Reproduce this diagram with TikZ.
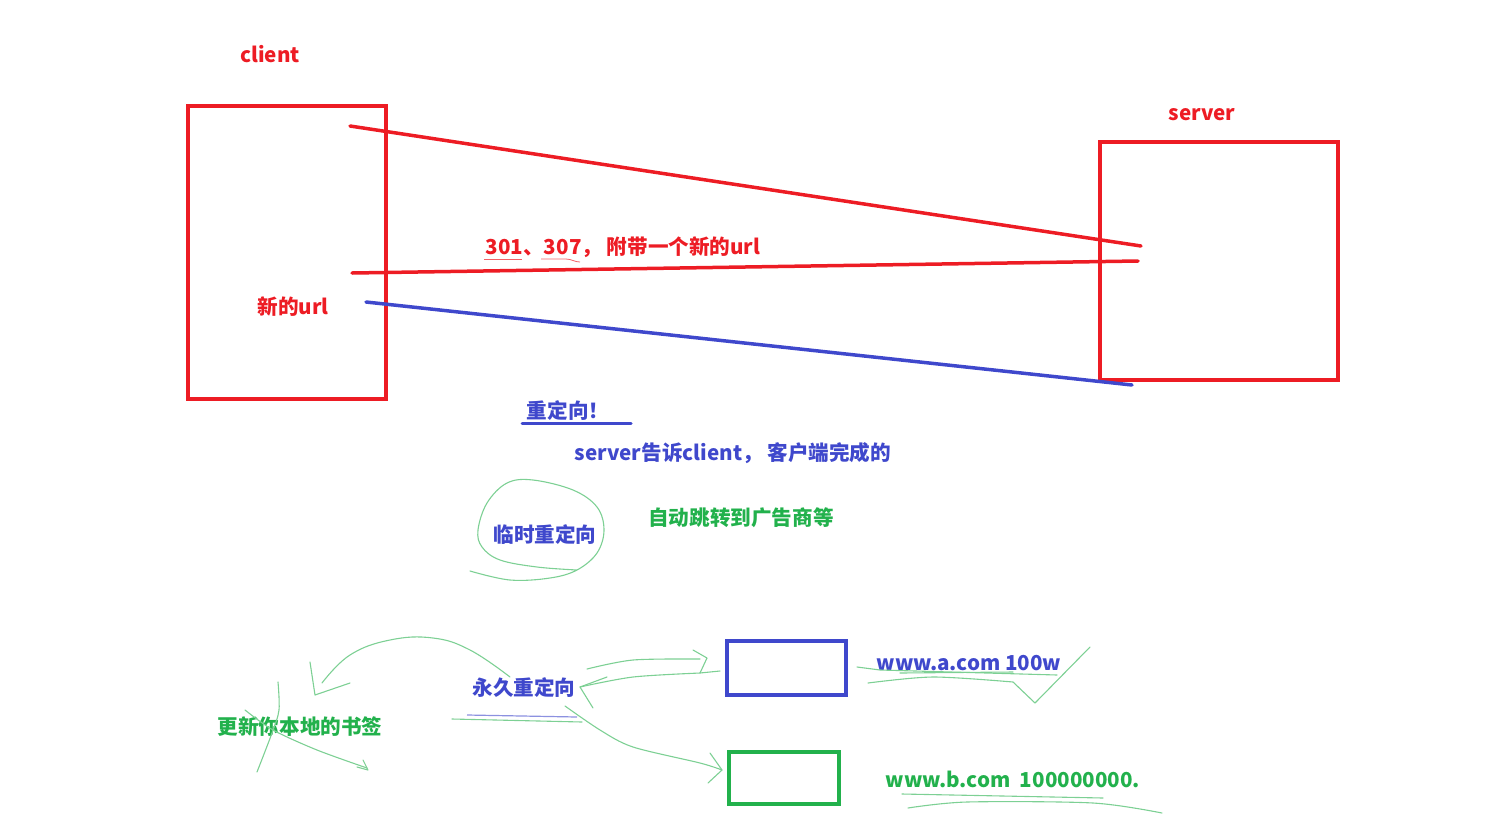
\documentclass[tikz,border=0pt]{standalone}
\usepackage{fontspec}
\setmainfont{Noto Sans CJK SC}
\usepackage{tikz}
\definecolor{redink}{RGB}{237, 28, 36}
\definecolor{blueink}{RGB}{63, 72, 204}
\definecolor{greenink}{RGB}{34, 177, 76}
\definecolor{penline}{RGB}{125, 208, 148}

\begin{document}
\begin{tikzpicture}[x=1pt, y=-1pt,
	lbl/.style={font=\bfseries\fontsize{20.6}{24}\selectfont, inner sep=0pt},
	boxline/.style={draw, line width=3.5pt, inner sep=0pt},
	pen/.style={penline, line width=1.1pt, line cap=round, line join=round}]
	
	\useasboundingbox (0,0) rectangle (1506,833);
	
	% client and server
	\node[boxline, redink, minimum width=198pt, minimum height=293pt] (clientbox) at (287,252.5) {};
	\node[boxline, redink, minimum width=238pt, minimum height=238pt] (serverbox) at (1219,261) {};
	\node[lbl, redink] (client) at (270,54) {client};
	\node[lbl, redink] (server) at (1202,115) {server};
	\node[lbl, redink] (newurl) at (293,307) {新的url};
	
	% request / response / second request
	\coordinate (reqa) at (350,126);
	\coordinate (reqb) at (1141,246);
	\coordinate (respa) at (1138,261);
	\coordinate (respb) at (352,273);
	\coordinate (newa) at (366,302);
	\coordinate (newb) at (1132,385);
	\draw[redink, line width=3.5pt, line cap=round] (reqa) -- (reqb);
	\draw[redink, line width=3.5pt, line cap=round] (respa) -- (respb);
	\draw[blueink, line width=3.5pt, line cap=round] (newa) -- (newb);
	
	\node[lbl, redink] (code) at (623,247) {301、307，\ 附带一个新的url};
	\draw[redink!70, line width=0.8pt] (484,259) -- (522,259);
	\draw[redink!70, line width=0.8pt] (541,259) -- (566,259) to[out=0, in=180] (580,262);
	
	% redirect notes
	\node[lbl, blueink] (redir) at (568,411) {重定向！};
	\draw[blueink, line width=3pt, line cap=round] (522,423) -- (631,423);
	\node[lbl, blueink] (tells) at (733,453) {server告诉client， 客户端完成的};
	
	% temporary
	\node[lbl, blueink] (temp) at (545,535) {临时重定向};
	\node[lbl, greenink] (ads) at (741,518) {自动跳转到广告商等};
	\draw[pen] plot[smooth, tension=0.6] coordinates {(470,571) (510,580) (550,578) (577,570)
		(597,553) (604,530) (597,507) (573,490) (533,480) (507,483) (487,503) (478,530)
		(482,547) (500,560) (537,567) (577,570)};
	
	% permanent
	\node[lbl, blueink] (perm) at (524,688) {永久重定向};
	\draw[blueink!60, line width=1.2pt] (467,715) -- (577,717);
	\draw[pen] (452,719) -- (582,722);
	\node[lbl, greenink] (bookmark) at (300,727) {更新你本地的书签};
	
	% arrow back to the bookmark
	\draw[pen] plot[smooth, tension=0.7] coordinates {(510,677) (470,650) (433,638) (390,640) (350,655) (322,683)};
	\draw[pen] (310,662) -- (315,695) -- (350,683);
	\draw[pen] plot[smooth] coordinates {(278,682) (279,710) (272,733) (257,772)};
	\draw[pen] plot[smooth] coordinates {(245,710) (273,730) (317,750) (367,768)};
	\draw[pen] (363,760) -- (368,770) -- (357,767);
	
	% two sites
	\node[boxline, blueink, minimum width=119pt, minimum height=54pt] (sitea) at (786.5,668) {};
	\node[boxline, greenink, minimum width=110pt, minimum height=52pt] (siteb) at (784,778) {};
	\node[lbl, blueink] (urla) at (969,663) {www.a.com 100w};
	\node[lbl, greenink] (urlb) at (1013,779) {www.b.com\ \ 100000000.};
	
	% arrows to the sites
	\draw[pen] plot[smooth] coordinates {(587,669) (633,660) (700,659)};
	\draw[pen] (693,650) -- (707,658) -- (700,673) -- (720,671);
	\draw[pen] plot[smooth] coordinates {(580,687) (633,677) (700,673)};
	\draw[pen] (607,677) -- (580,687) -- (593,708);
	\draw[pen] plot[smooth] coordinates {(565,706) (600,730) (633,747) (700,763) (722,770)};
	\draw[pen] (710,753) -- (722,770) -- (708,783);
	
	% scribbles under the urls
	\draw[pen] (857,667) -- (880,670) -- (1057,675);
	\draw[pen] (900,673) -- (1013,672);
	\draw[pen] plot[smooth] coordinates {(868,683) (933,677) (1013,682)} -- (1035,703) -- (1090,647);
	\draw[pen] (902,794) -- (1103,798);
	\draw[pen] plot[smooth] coordinates {(908,808) (967,802) (1093,803) (1162,813)};
\end{tikzpicture}
\end{document}
